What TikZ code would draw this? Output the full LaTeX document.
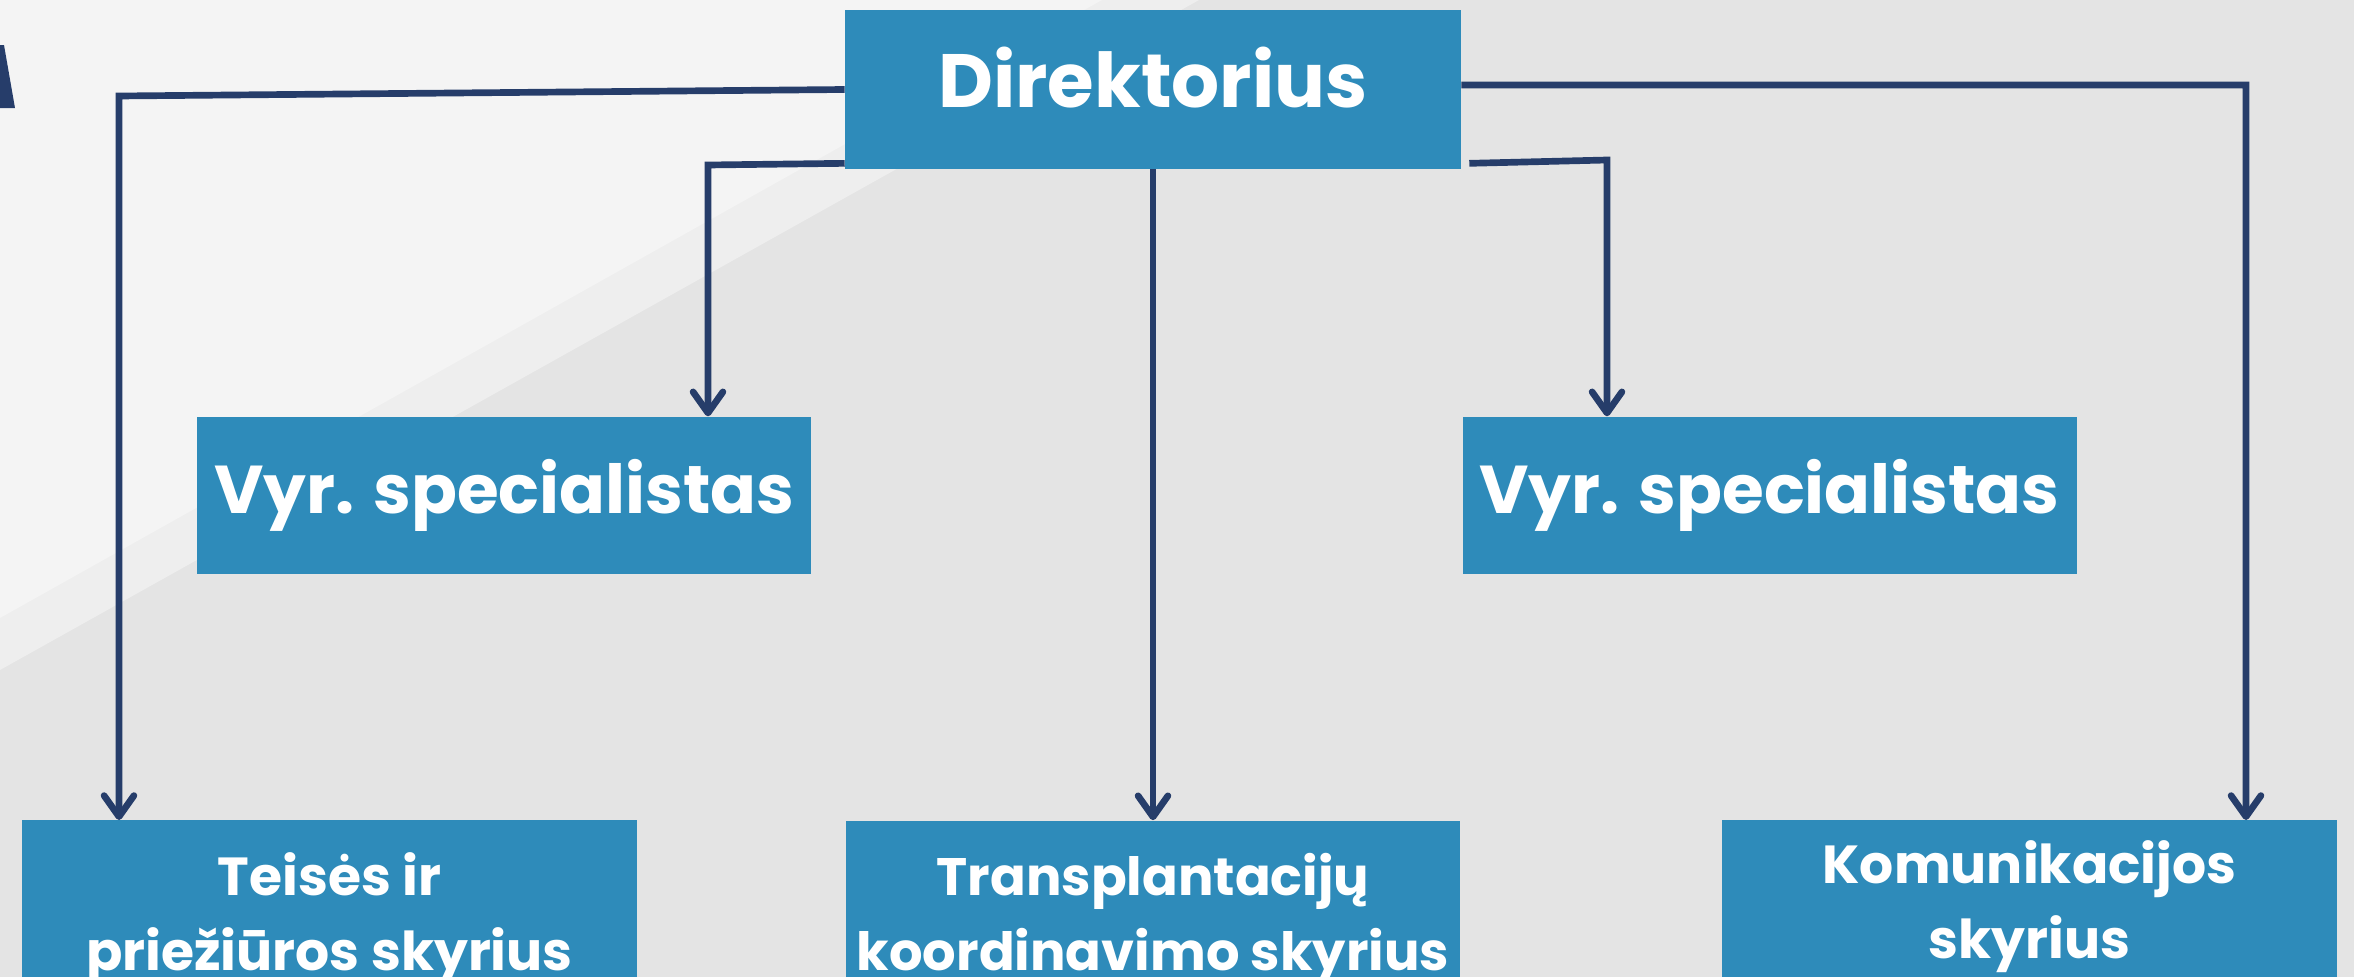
\documentclass[tikz,border=0pt]{standalone}
\usepackage{fontspec}
\setmainfont{Poppins}
\usetikzlibrary{positioning,arrows.meta}
\definecolor{boxBlue}{RGB}{46,139,186}
\definecolor{lineNavy}{RGB}{38,61,106}
\definecolor{bgBase}{RGB}{228,228,228}
\definecolor{bgBand}{RGB}{238,238,238}
\definecolor{bgLight}{RGB}{244,244,244}

\begin{document}
\begin{tikzpicture}[x=0.02cm, y=-0.02cm,
        unitBox/.style={rectangle, fill=boxBlue, text=white, inner sep=0pt, align=center},
        link/.style={draw=lineNavy, line width=3.8pt, -{Straight Barb[length=12pt, width=17pt, round]}}]
        % background
        \clip (0,0) rectangle (2354,977);
        \fill[bgBase] (0,0) rectangle (2354,977);
        \fill[bgBand] (0,0) -- (1199,0) -- (0,670) -- cycle;
        \fill[bgLight] (0,0) -- (1102,0) -- (0,618) -- cycle;
        \fill[lineNavy] (0,45) -- (4,45) -- (15,108) -- (0,108) -- cycle;

        \node[unitBox, minimum width = 12.32cm, minimum height = 3.18cm, text height = 30pt, text depth = 9pt, font = \bfseries\fontsize{43}{51}\selectfont] (direktorius) at (1153, 89.5) {Direktorius};
        \node[unitBox, minimum width = 12.28cm, minimum height = 3.14cm, font = \bfseries\fontsize{38.5}{46}\selectfont] (specL) [below left = 4.94cm and 0.66cm of direktorius] {Vyr. specialistas};
        \node[unitBox, minimum width = 12.28cm, minimum height = 3.14cm, font = \bfseries\fontsize{38.5}{46}\selectfont] (specR) [below right = 4.94cm and 0.02cm of direktorius] {Vyr. specialistas};
        \node[unitBox, minimum width = 12.28cm, minimum height = 3.92cm, font = \bfseries\fontsize{30}{42.5}\selectfont] (transpl) [below = 13.02cm of direktorius] {Transplantacijų\\koordinavimo skyrius};
        \node[unitBox, minimum width = 12.3cm, minimum height = 3.92cm, font = \bfseries\fontsize{30.5}{42.5}\selectfont, anchor = north] (teises) at (329.5, 820) {Teisės ir\\priežiūros skyrius};
        \node[unitBox, minimum width = 12.3cm, minimum height = 3.46cm, font = \bfseries\fontsize{30.5}{42.5}\selectfont, anchor = north] (komun) at (2029.5, 820) {Komunikacijos\\skyrius};

        \coordinate (cornerLL) at (119, 96);
        \coordinate (cornerL) at (708, 165);
        \coordinate (cornerR) at (1607, 160);
        \coordinate (cornerRR) at (2246, 85);

        \draw[link] (direktorius.west) -- (cornerLL) -- (cornerLL |- teises.north);
        \draw[link] ([yshift = 0.12cm]direktorius.south west) -- (cornerL) -- (cornerL |- specL.north);
        \draw[link] (direktorius.south) -- (transpl.north);
        \draw[link] ([xshift = 0.16cm, yshift = 0.12cm]direktorius.south east) -- (cornerR) -- (cornerR |- specR.north);
        \draw[link] ([yshift = 0.09cm]direktorius.east) -- (cornerRR) -- (cornerRR |- komun.north);
      \end{tikzpicture}
\end{document}
